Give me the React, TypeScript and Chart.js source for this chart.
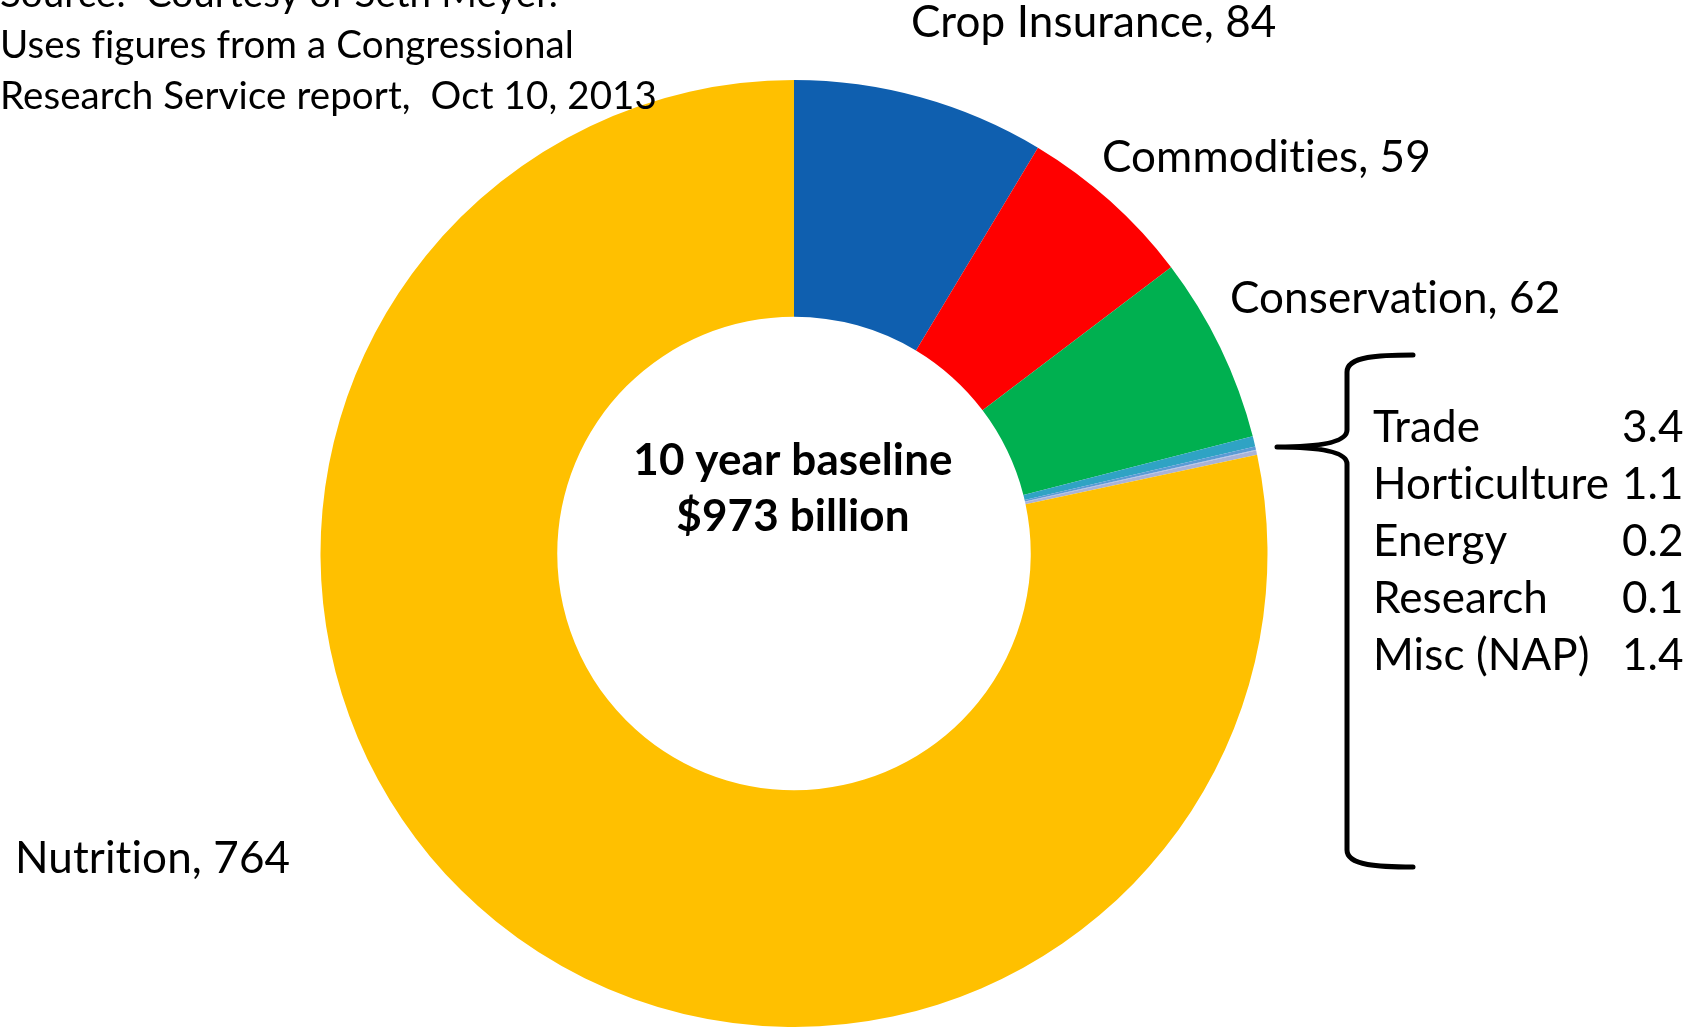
import React, { useEffect, useRef } from "react";
import { Chart, registerables } from "chart.js";

Chart.register(...registerables);

const categories = [
  "Crop Insurance",
  "Commodities",
  "Conservation",
  "Trade",
  "Horticulture",
  "Energy",
  "Research",
  "Misc (NAP)",
  "Nutrition",
];
const values = [84, 59, 62, 3.4, 1.1, 0.2, 0.1, 1.4, 764];
const colors = [
  "#0F5FAF",
  "#FF0000",
  "#00B050",
  "#2FA3C4",
  "#5B9BD5",
  "#8FAADC",
  "#B4C7E7",
  "#A9B3D8",
  "#FFC000",
];
const sourceLines = [
  "Source:  Courtesy of Seth Meyer.",
  "Uses figures from a Congressional",
  "Research Service report,  Oct 10, 2013",
];
const centerLines = ["10 year baseline", "$973 billion"];
const minorIdx = [3, 4, 5, 6, 7];

const W = 1695;
const H = 1027;
const FONT = "Lato, 'Open Sans', sans-serif";

export default function App() {
  const ref = useRef<HTMLCanvasElement | null>(null);

  useEffect(() => {
    if (!ref.current) return;
    const textPlugin = {
      id: "annotText",
      afterDraw(chart: any) {
        const ctx = chart.ctx as CanvasRenderingContext2D;
        ctx.save();
        ctx.fillStyle = "#000";
        ctx.textBaseline = "alphabetic";
        ctx.textAlign = "left";
        try {
          (ctx as any).letterSpacing = "0.1px";
        } catch (e) {}
        // source text
        ctx.font = `38.5px ${FONT}`;
        const srcBase = [7, 58, 109];
        sourceLines.forEach((t, i) => ctx.fillText(t, 0, srcBase[i]));
        // major labels
        ctx.font = `44px ${FONT}`;
        const lab = (i: number) => `${categories[i]}, ${values[i]}`;
        ctx.fillText(lab(0), 911, 37);
        ctx.fillText(lab(1), 1102, 172);
        ctx.fillText(lab(2), 1230, 313);
        ctx.fillText(lab(8), 15, 873);
        // minor list
        minorIdx.forEach((idx, r) => {
          const y = 442 + r * 57;
          ctx.fillText(categories[idx], 1373, y);
          ctx.fillText(values[idx].toFixed(1), 1622, y);
        });
        // center text
        ctx.textAlign = "center";
        ctx.font = `bold 44px ${FONT}`;
        ctx.fillText(centerLines[0], 793, 475);
        ctx.fillText(centerLines[1], 793, 531);
        // brace
        ctx.strokeStyle = "#000";
        ctx.lineWidth = 5;
        ctx.lineCap = "round";
        ctx.lineJoin = "round";
        ctx.beginPath();
        ctx.moveTo(1413, 355);
        ctx.bezierCurveTo(1380, 355, 1347, 356, 1347, 372);
        ctx.lineTo(1347, 430);
        ctx.bezierCurveTo(1347, 446, 1300, 447, 1277, 447);
        ctx.bezierCurveTo(1300, 447, 1347, 448, 1347, 464);
        ctx.lineTo(1347, 850);
        ctx.bezierCurveTo(1347, 866, 1380, 867, 1413, 867);
        ctx.stroke();
        ctx.restore();
      },
    };

    const chart = new Chart(ref.current, {
      type: "doughnut",
      data: {
        labels: categories,
        datasets: [
          {
            data: values,
            backgroundColor: colors,
            borderWidth: 0,
          },
        ],
      },
      options: {
        responsive: false,
        animation: false,
        cutout: "50%",
        rotation: 0,
        layout: { padding: { left: 320, right: 427, top: 80, bottom: 0 } },
        plugins: {
          legend: { display: false },
          tooltip: { enabled: false },
        },
      },
      plugins: [textPlugin],
    });
    return () => chart.destroy();
  }, []);

  return (
    <div style={{ position: "absolute", left: 0, top: 0, width: W, height: H, background: "#fff" }}>
      <canvas ref={ref} width={W} height={H} style={{ width: W, height: H, display: "block" }} />
    </div>
  );
}
